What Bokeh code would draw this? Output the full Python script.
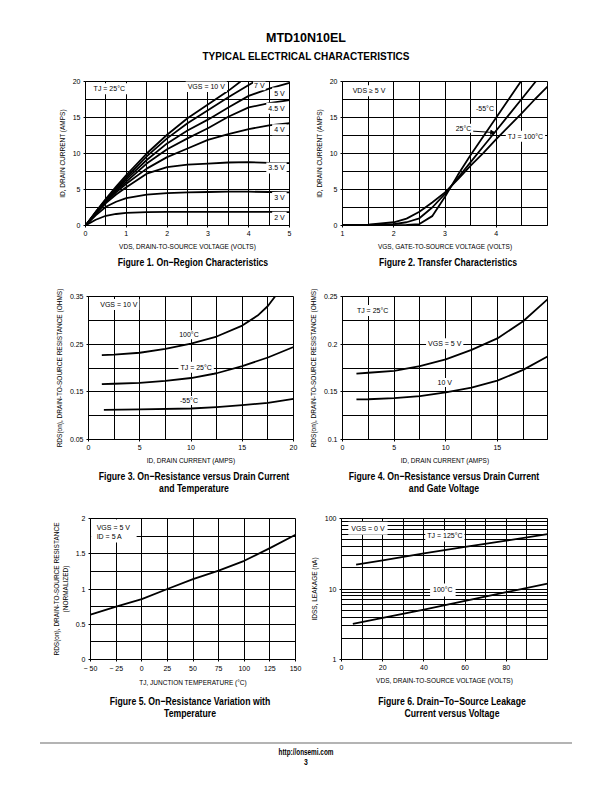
from bokeh.plotting import figure
from bokeh.models import Range1d, FixedTicker, Label, Div, Arrow, NormalHead, BoxAnnotation, BasicTickFormatter
from bokeh.layouts import column, row
from bokeh.embed import file_html
from bokeh.resources import INLINE

FONT = "Liberation Sans"
CSSFONT = "'Liberation Sans',Arial,sans-serif"

# ---------------- Figure 1: On-Region Characteristics ----------------
f1_vds = [0, 0.25, 0.5, 0.75, 1.0, 1.5, 2.0, 2.5, 3.0, 3.5, 4.0, 4.5, 5.0]
f1_id_2v = [0, 0.8, 1.35, 1.6, 1.75, 1.85, 1.9, 1.9, 1.9, 1.9, 1.9, 1.9, 1.85]
f1_id_3v = [0, 1.4, 2.6, 3.3, 3.8, 4.3, 4.5, 4.6, 4.65, 4.7, 4.7, 4.65, 4.6]
f1_id_35v = [0, 1.6, 3.1, 4.3, 5.3, 7.2, 8.1, 8.45, 8.6, 8.75, 8.8, 8.7, 8.65]
f1_id_4v = [0, 1.7, 3.3, 4.6, 5.8, 7.9, 9.5, 10.7, 11.9, 12.7, 13.4, 13.9, 14.2]
f1_id_45v = [0, 1.75, 3.4, 4.8, 6.1, 8.6, 10.6, 12.1, 13.5, 15.1, 16.4, 17.0, 17.4]
f1_id_5v = [0, 1.8, 3.5, 5.0, 6.4, 9.1, 11.4, 13.2, 14.7, 16.4, 18.0, 19.0, 19.8]
f1_vds_7v = [0, 0.25, 0.5, 0.75, 1.0, 1.5, 2.0, 2.5, 3.0, 3.5, 4.0, 4.15]
f1_id_7v = [0, 1.85, 3.6, 5.2, 6.7, 9.6, 12.1, 14.2, 16.0, 17.8, 19.5, 20.0]
f1_vds_10v = [0, 0.25, 0.5, 0.75, 1.0, 1.5, 2.0, 2.5, 3.0, 3.5, 3.8]
f1_id_10v = [0, 1.9, 3.7, 5.4, 7.0, 10.0, 12.6, 14.9, 16.8, 18.7, 20.0]
f1_labels = ["2 V", "3 V", "3.5 V", "4 V", "4.5 V", "5 V", "7 V", "VGS = 10 V"]

# ---------------- Figure 2: Transfer Characteristics ----------------
f2_vgs_m55 = [1.0, 1.5, 2.0, 2.25, 2.5, 2.75, 3.0, 3.25, 3.5, 3.75, 4.0, 4.25, 4.48]
f2_id_m55 = [0.05, 0.05, 0.05, 0.08, 0.2, 1.3, 4.0, 7.0, 9.8, 12.4, 15.0, 17.6, 20.0]
f2_vgs_25 = [1.0, 1.5, 2.0, 2.25, 2.5, 2.75, 3.0, 3.25, 3.5, 3.75, 4.0, 4.25, 4.5, 4.77]
f2_id_25 = [0.05, 0.08, 0.2, 0.45, 1.0, 2.5, 4.4, 6.6, 8.8, 11.0, 13.2, 15.4, 17.6, 20.0]
f2_vgs_100 = [1.0, 1.5, 2.0, 2.25, 2.5, 2.75, 3.0, 3.25, 3.5, 3.75, 4.0, 4.25, 4.5, 4.75, 5.0]
f2_id_100 = [0.08, 0.12, 0.45, 0.95, 1.9, 3.2, 4.6, 6.4, 8.3, 10.1, 12.0, 13.8, 15.6, 17.5, 19.3]

# ---------------- Figure 3: RDS(on) vs ID and temperature ----------------
f3_id_100 = [1.3, 2.5, 5, 7.5, 10, 12.5, 15, 16.5, 17.5, 18.2]
f3_r_100 = [0.227, 0.228, 0.232, 0.240, 0.251, 0.266, 0.289, 0.31, 0.33, 0.35]
f3_id_25 = [1.3, 2.5, 5, 7.5, 10, 12.5, 15, 17.5, 20]
f3_r_25 = [0.166, 0.167, 0.169, 0.173, 0.179, 0.189, 0.204, 0.222, 0.244]
f3_id_m55 = [1.5, 5, 10, 12.5, 15, 17.5, 20]
f3_r_m55 = [0.112, 0.113, 0.115, 0.118, 0.122, 0.127, 0.135]

# ---------------- Figure 4: RDS(on) vs ID and gate voltage ----------------
f4_id = [1.35, 2.5, 5, 7.5, 10, 12.5, 15, 17.5, 19.86]
f4_r_5v = [0.169, 0.170, 0.172, 0.177, 0.184, 0.194, 0.206, 0.224, 0.247]
f4_r_10v = [0.142, 0.1422, 0.1435, 0.1455, 0.1495, 0.1545, 0.1617, 0.173, 0.187]

# ---------------- Figure 5: normalized RDS(on) vs temperature ----------------
f5_tj = [-50, -25, 0, 25, 50, 75, 100, 125, 150]
f5_rn = [0.637, 0.749, 0.856, 1.0, 1.14, 1.26, 1.40, 1.58, 1.77]

# ---------------- Figure 6: IDSS leakage vs VDS ----------------
f6_vds_125 = [7.1, 20, 40, 60, 80, 100]
f6_i_125 = [22.2, 25.5, 32, 39.5, 48.5, 60]
f6_vds_100 = [5.5, 20, 40, 60, 80, 100]
f6_i_100 = [3.2, 3.9, 5.1, 6.8, 9.0, 11.9]

TICK_FS = "7px"
AXLAB_FS = "6.5px"
ANNOT_FS = "7px"


def style_axis(ax, ticks, overrides=None):
    ax.ticker = FixedTicker(ticks=ticks)
    ax.axis_line_color = "black"
    ax.major_tick_line_color = "black"
    ax.major_tick_out = 2
    ax.major_tick_in = 0
    ax.minor_tick_out = 0
    ax.minor_tick_in = 0
    ax.major_label_text_font = FONT
    ax.major_label_text_font_size = TICK_FS
    ax.major_label_text_color = "black"
    ax.major_label_standoff = 3
    ax.axis_label_text_font = FONT
    ax.axis_label_text_font_size = AXLAB_FS
    ax.axis_label_text_font_style = "normal"
    ax.axis_label_text_color = "black"
    ax.axis_label_standoff = 4
    if overrides:
        ax.major_label_overrides = overrides


def make_fig(w, h, bl, br, bt, bb, xr, yr, xticks, yticks, xgrid, ygrid, xlabel, ylabel,
             log=False, xover=None, yover=None):
    p = figure(width=w, height=h, x_range=Range1d(*xr), y_range=Range1d(*yr),
               y_axis_type="log" if log else "linear",
               output_backend="svg", toolbar_location=None,
               min_border_left=bl, min_border_right=br, min_border_top=bt, min_border_bottom=bb)
    p.outline_line_color = "black"
    p.outline_line_width = 1
    p.outline_line_alpha = 1
    p.background_fill_color = "white"
    p.border_fill_color = "white"
    for g, t in ((p.xgrid[0], xgrid), (p.ygrid[0], ygrid)):
        g.ticker = FixedTicker(ticks=t)
        g.grid_line_color = "black"
        g.grid_line_width = 1
        g.grid_line_alpha = 1
    if log:
        p.yaxis[0].formatter = BasicTickFormatter()
    style_axis(p.xaxis[0], xticks, xover)
    style_axis(p.yaxis[0], yticks, yover)
    p.xaxis[0].axis_label = xlabel
    p.yaxis[0].axis_label = ylabel
    return p


def lab(p, x, y, text, align="center", pad=1):
    p.add_layout(Label(x=x, y=y, text=text, text_align=align, text_baseline="middle",
                       text_font=FONT, text_font_size=ANNOT_FS, text_color="black",
                       background_fill_color="white", padding=pad))


def curve(p, x, y):
    p.line(x, y, line_color="black", line_width=1.8, line_join="round")


def steps(a, b, s):
    out = []
    v = a
    while v <= b + 1e-9:
        out.append(round(v, 4))
        v += s
    return out


# ---- Figure 1
p1 = make_fig(306, 185, 85, 17, 11, 30, (0, 5), (0, 20), [0, 1, 2, 3, 4, 5], [0, 5, 10, 15, 20],
              steps(0, 5, 0.5), steps(0, 20, 2.5),
              "VDS, DRAIN-TO-SOURCE VOLTAGE (VOLTS)", "ID, DRAIN CURRENT (AMPS)")
for xs, ys in ((f1_vds, f1_id_2v), (f1_vds, f1_id_3v), (f1_vds, f1_id_35v), (f1_vds, f1_id_4v),
               (f1_vds, f1_id_45v), (f1_vds, f1_id_5v), (f1_vds_7v, f1_id_7v), (f1_vds_10v, f1_id_10v)):
    curve(p1, xs, ys)
lab(p1, 0.15, 19.0, "TJ = 25°C", "left", 2)
lab(p1, 2.96, 19.3, f1_labels[7], "center", 2)
lab(p1, 4.26, 19.4, f1_labels[6], "center", 1)
for t, yy in zip(f1_labels[:6], [1.15, 3.9, 8.0, 13.3, 16.3, 18.4]):
    lab(p1, 4.93, yy, t, "right", 2)

# ---- Figure 2
p2 = make_fig(298, 185, 36, 57, 11, 30, (1, 5), (0, 20), [1, 2, 3, 4], [0, 5, 10, 15, 20],
              steps(1, 5, 0.5), steps(0, 20, 2.5),
              "VGS, GATE-TO-SOURCE VOLTAGE (VOLTS)", "ID, DRAIN CURRENT (AMPS)")
curve(p2, f2_vgs_m55, f2_id_m55)
curve(p2, f2_vgs_25, f2_id_25)
curve(p2, f2_vgs_100, f2_id_100)
lab(p2, 1.16, 18.7, "VDS ≥ 5 V", "left", 2)
lab(p2, 3.78, 16.3, "-55°C", "center", 1)
lab(p2, 3.36, 13.5, "25°C", "center", 1)
lab(p2, 4.57, 12.4, "TJ = 100°C", "center", 2)
p2.add_layout(Arrow(end=NormalHead(size=4, fill_color="black", line_color="black"),
                    x_start=3.55, y_start=13.1, x_end=3.97, y_end=12.9,
                    line_color="black", line_width=1))

# ---- Figure 3
p3 = make_fig(306, 193, 88, 13, 21, 29, (0, 20), (0.05, 0.35), [0, 5, 10, 15, 20],
              [0.05, 0.15, 0.25, 0.35], steps(0, 20, 2.5), steps(0.05, 0.35, 0.05),
              "ID, DRAIN CURRENT (AMPS)", "RDS(on), DRAIN-TO-SOURCE RESISTANCE (OHMS)",
              yover={0.05: "0.05", 0.15: "0.15", 0.25: "0.25", 0.35: "0.35"})
curve(p3, f3_id_100, f3_r_100)
curve(p3, f3_id_25, f3_r_25)
curve(p3, f3_id_m55, f3_r_m55)
lab(p3, 0.95, 0.333, "VGS = 10 V", "left", 2)
lab(p3, 9.8, 0.27, "100°C", "center", 1)
lab(p3, 10.5, 0.2017, "TJ = 25°C", "center", 2)
lab(p3, 9.8, 0.132, "-55°C", "center", 1)

# ---- Figure 4
p4 = make_fig(298, 193, 35, 57, 21, 29, (0, 19.86), (0.1, 0.25), [0, 5, 10, 15],
              [0.1, 0.15, 0.2, 0.25], steps(0, 17.5, 2.5), steps(0.1, 0.25, 0.025),
              "ID, DRAIN CURRENT (AMPS)", "RDS(on), DRAIN-TO-SOURCE RESISTANCE (OHMS)",
              yover={0.1: "0.1", 0.15: "0.15", 0.2: "0.2", 0.25: "0.25"})
curve(p4, f4_id, f4_r_5v)
curve(p4, f4_id, f4_r_10v)
lab(p4, 1.2, 0.2353, "TJ = 25°C", "left", 2)
lab(p4, 9.9, 0.2005, "VGS = 5 V", "center", 2)
lab(p4, 9.9, 0.1597, "10 V", "center", 1)

# ---- Figure 5
p5 = make_fig(306, 190, 90, 11, 16, 31, (-50, 150), (0, 2), steps(-50, 150, 25),
              [0, 0.5, 1, 1.5, 2], steps(-50, 150, 25), steps(0, 2, 0.25),
              "TJ, JUNCTION TEMPERATURE (°C)",
              "RDS(on), DRAIN-TO-SOURCE RESISTANCE\n(NORMALIZED)",
              xover={-50: "− 50", -25: "− 25"},
              yover={0: "0", 0.5: "0.5", 1: "1", 1.5: "1.5", 2: "2"})
p5.add_layout(BoxAnnotation(left=-49.4, right=-5, bottom=1.66, top=1.985, fill_color="white",
                            fill_alpha=1, line_alpha=0))
curve(p5, f5_tj, f5_rn)
p5.add_layout(Label(x=-44, y=1.874, text="VGS = 5 V", text_align="left", text_baseline="middle",
                    text_font=FONT, text_font_size=ANNOT_FS, text_color="black"))
p5.add_layout(Label(x=-44, y=1.744, text="ID = 5 A", text_align="left", text_baseline="middle",
                    text_font=FONT, text_font_size=ANNOT_FS, text_color="black"))

# ---- Figure 6
p6 = make_fig(298, 190, 35, 57, 18, 29, (0, 100), (1, 100), [0, 20, 40, 60, 80], [1, 10, 100],
              steps(0, 100, 10), [1, 2, 3, 4, 5, 6, 7, 8, 9, 10, 20, 30, 40, 50, 60, 70, 80, 90, 100],
              "VDS, DRAIN-TO-SOURCE VOLTAGE (VOLTS)", "IDSS, LEAKAGE (nA)", log=True,
              yover={1: "1", 10: "10", 100: "100"})
curve(p6, f6_vds_125, f6_i_125)
curve(p6, f6_vds_100, f6_i_100)
lab(p6, 3.3, 72.6, "VGS = 0 V", "left", 3)
lab(p6, 50.2, 56.6, "TJ = 125°C", "center", 2)
lab(p6, 49.2, 9.7, "100°C", "center", 3)


def text_div(width, height, items, extra=""):
    inner = ""
    for cx, cy, txt, size, sx in items:
        inner += ('<div style="position:absolute;left:%dpx;width:400px;top:%.1fpx;'
                  'text-align:center;font-weight:bold;font-size:%.1fpx;line-height:%dpx;'
                  'font-family:%s;white-space:nowrap;color:#000;transform:scaleX(%.2f);'
                  'transform-origin:50%% 50%%">%s</div>'
                  % (cx - 200, cy - size * 0.6, size, int(size * 1.2), CSSFONT, sx, txt))
    html = ('<div style="position:relative;width:%dpx;height:%dpx;overflow:visible">%s%s</div>'
            % (width, height, extra, inner))
    return Div(text=html, width=width, height=height, margin=(0, 0, 0, 0))


CS = 0.79
header = text_div(612, 70, [(306, 38, "MTD10N10EL", 12.5, 1.0),
                            (306, 57, "TYPICAL ELECTRICAL CHARACTERISTICS", 11, 0.91)])
cap1 = text_div(612, 20, [(193, 8, "Figure 1. On−Region Characteristics", 11, CS),
                          (448, 8, "Figure 2. Transfer Characteristics", 11, CS)])
cap2 = text_div(612, 32, [(194, 9, "Figure 3. On−Resistance versus Drain Current", 11, CS),
                          (194, 21, "and Temperature", 11, CS),
                          (444, 9, "Figure 4. On−Resistance versus Drain Current", 11, CS),
                          (444, 21, "and Gate Voltage", 11, CS)])
cap3 = text_div(612, 32, [(190, 12, "Figure 5. On−Resistance Variation with", 11, CS),
                          (190, 24, "Temperature", 11, CS),
                          (452, 12, "Figure 6. Drain−To−Source Leakage", 11, CS),
                          (452, 24, "Current versus Voltage", 11, CS)])
footer = text_div(612, 48, [(306, 30, "http://onsemi.com", 8.5, 0.75), (306, 40, "3", 8.5, 0.8)],
                  extra='<div style="position:absolute;left:40px;top:20px;width:532px;height:2px;background:#b4b4b4"></div>')

layout = column(header, row(p1, p2), cap1, row(p3, p4), cap2, row(p5, p6), cap3, footer)

with open("out.html", "w") as f:
    f.write(file_html(layout, INLINE, title="MTD10N10EL"))
